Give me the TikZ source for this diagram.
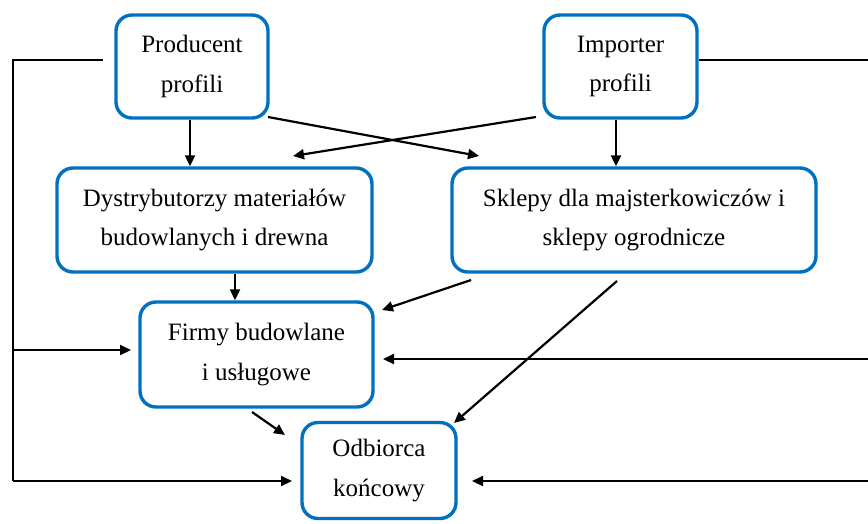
\documentclass[tikz,border=0pt]{standalone}
\usepackage{fontspec}
\setmainfont{Liberation Serif}
\usetikzlibrary{arrows.meta}
\definecolor{boxblue}{RGB}{0,112,192}
\begin{document}
\begin{tikzpicture}[x=1pt,y=-1pt,
  box/.style={draw=boxblue, line width=3.4pt, rounded corners=16pt, align=center,
    inner sep=0pt, font=\fontsize{25}{39.5}\selectfont, text=black},
  conn/.style={line width=2.2pt, draw=black},
  arr/.style={conn, -{Triangle[length=11pt,width=10pt]}}]
\useasboundingbox (0,0) rectangle (868,523);
\node[box, minimum width=152pt, minimum height=103pt] (prod) at (192,66.5) {Producent\\profili};
\node[box, minimum width=153pt, minimum height=103pt] (imp) at (620.5,66.5) {Importer\\profili};
\node[box, minimum width=315pt, minimum height=104pt] (dys) at (214.5,220) {Dystrybutorzy materiałów\\budowlanych i drewna};
\node[box, minimum width=364pt, minimum height=104pt] (skl) at (634,220) {Sklepy dla majsterkowiczów i\\sklepy ogrodnicze};
\node[box, minimum width=233pt, minimum height=105pt] (firm) at (256.5,354.5) {Firmy budowlane\\i usługowe};
\node[box, minimum width=154pt, minimum height=96pt] (odb) at (379,470.5) {Odbiorca\\końcowy};
% free ends
\coordinate (lstart) at (103,60);
\coordinate (lcorner) at (13,60);
\coordinate (lbottom) at (13,481);
\coordinate (lmid) at (13,350);
\coordinate (rtop) at (868,60);
\coordinate (rmid) at (868,359);
\coordinate (rbot) at (868,481);
\coordinate (p1) at (268,117);
\coordinate (p1t) at (479,156);
\coordinate (i1) at (536,117);
\coordinate (i1t) at (293,156);
\coordinate (s1) at (471,280);
\coordinate (s1t) at (382,310);
\coordinate (s2) at (617,281);
\coordinate (s2t) at (454,423);
\coordinate (f1) at (252,412);
\coordinate (f1t) at (285,435);
% connectors
\draw[arr] ([xshift=-2pt]prod.south) -- ([xshift=-2pt]prod.south |- dys.north);
\draw[arr] ([xshift=-4.5pt]imp.south) -- ([xshift=-4.5pt]imp.south |- skl.north);
\draw[arr] (p1) -- (p1t);
\draw[arr] (i1) -- (i1t);
\draw[arr] ([xshift=20.5pt]dys.south) -- ([xshift=20.5pt]dys.south |- firm.north);
\draw[arr] (s1) -- (s1t);
\draw[arr] (s2) -- (s2t);
\draw[arr] (f1) -- (f1t);
\draw[conn] (lstart) -- (lcorner) -- (lbottom);
\draw[arr] (lbottom) -- (lbottom -| 292,0);
\draw[arr] (lmid) -- (lmid -| 131,0);
\draw[conn] (imp.east |- rtop) -- (rtop);
\draw[arr] (rmid) -- (rmid -| 383,0);
\draw[arr] (rbot) -- (rbot -| 472,0);
\end{tikzpicture}
\end{document}
